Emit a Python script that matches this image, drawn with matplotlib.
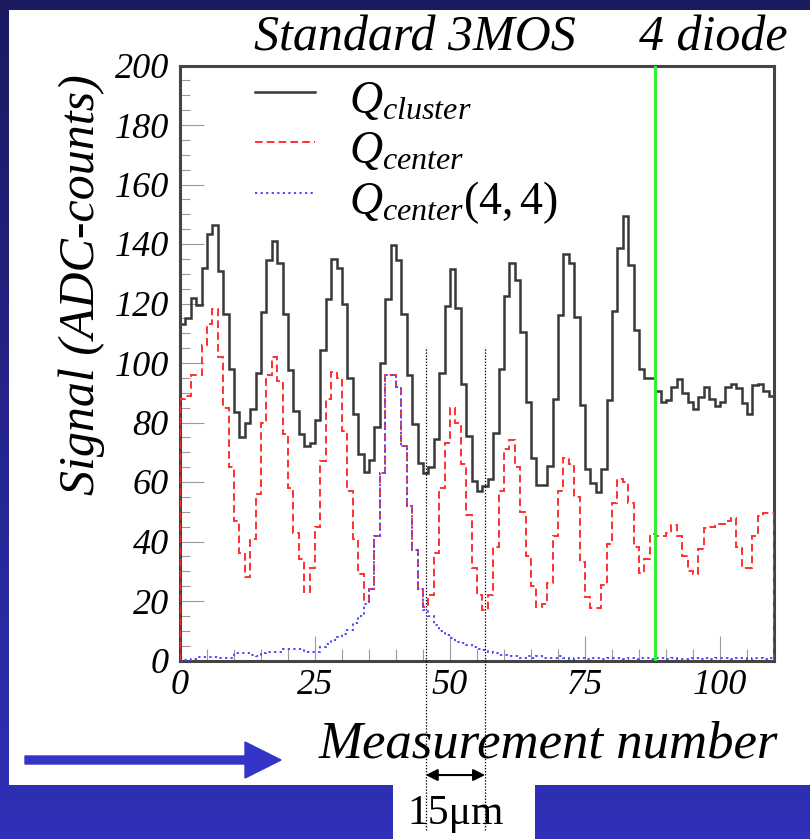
import numpy as np
import matplotlib
matplotlib.use('Agg')
import matplotlib.pyplot as plt
from matplotlib.patches import Rectangle, FancyArrow
from matplotlib.colors import LinearSegmentedColormap

# ---------------- data ----------------
bin_edges = np.arange(0, 111, 1)          # measurement-number bins (110 bins)

q_cluster = [113, 115, 122, 119.5, 132, 143.5, 146.5, 131, 116.5, 98,
             83.5, 75, 80, 84.5, 96.5, 117, 134.5, 141, 133.5, 116.5,
             97.5, 84, 76, 72, 73, 81, 104.5, 121.5, 135, 132,
             120, 95, 83, 69.5, 63.5, 67.5, 78.5, 100, 121.5, 139.5,
             134.5, 116.5, 96, 79.5, 66.5, 63, 65, 74.5, 96.5, 119,
             131.5, 118.5, 93, 75.5, 60.5, 57, 58.5, 61, 76.5, 98,
             122.5, 133.5, 128, 110.5, 87, 68, 59, 59, 65.5, 88,
             116, 136.5, 133.5, 115.5, 86, 64.5, 59.5, 56.5, 64.5, 87.5,
             117.5, 138.5, 149.5, 133, 111, 98, 95, 95, 90.5, 87,
             87.5, 92, 94.5, 90, 87, 84.5, 88.5, 92, 88, 85.5,
             87, 92, 93, 91.5, 86.5, 83, 92.5, 93, 90.5, 89]

q_center = [88, 89, 96, 96, 106, 113, 118, 102, 85, 65,
            47, 36, 28, 41, 56, 80, 96, 102, 94, 76,
            58, 43, 34, 23, 31, 45, 67, 88, 97, 95,
            77, 57, 41, 29, 20, 24, 42, 63, 96, 96,
            92, 72, 52, 37, 24, 18, 22, 36, 58, 73,
            85, 80, 66, 49, 31, 22, 17, 22, 38, 57,
            71, 74, 65, 50, 35, 25, 18, 19, 26, 42,
            57, 68, 66, 55, 33, 21.5, 17.5, 17.5, 25.5, 39,
            53, 61, 60, 53, 38, 29.5, 34, 42.5, 42, 42,
            43, 45.5, 42, 35, 30, 29, 37.5, 44.5, 45, 46,
            46, 47, 48, 38, 31, 31, 42, 48.5, 49.5, 49.5]

q_center44 = [0.3, 0.3, 0.5, 1.2, 1.3, 1.3, 1.3, 0.8, 0.7, 0.8,
              2.4, 2.4, 2.4, 2.0, 1.5, 2.4, 3.0, 3.0, 3.0, 4.0,
              4.0, 4.0, 4.0, 3.0, 3.0, 3.0, 4.5, 5.5, 7.0, 8.0,
              9.0, 10.3, 12.5, 15, 19, 24, 42, 63, 96, 96,
              92, 72, 52, 37, 24, 17, 15, 12, 10, 8.6,
              7.5, 6.3, 5.8, 5.2, 4.5, 4.0, 3.5, 3.0, 2.5, 2.0,
              2.0, 1.5, 1.5, 1.0, 1.5, 1.0, 1.5, 1.0, 1.0, 1.0,
              1.5, 1.0, 0.5, 1.0, 1.0, 0.5, 1.0, 1.0, 0.5, 1.0,
              1.0, 1.0, 0.5, 1.0, 0.5, 1.0, 1.0, 0.5, 1.0, 1.0,
              0.5, 1.0, 0.5, 0.5, 1.0, 1.0, 0.5, 1.0, 0.5, 1.0,
              1.0, 1.0, 0.5, 1.0, 1.0, 0.5, 1.0, 1.0, 0.5, 1.0]

x_ticks = [0, 25, 50, 75, 100]
y_ticks = [0, 20, 40, 60, 80, 100, 120, 140, 160, 180, 200]
labels = [r'$Q_{cluster}$', r'$Q_{center}$', r'$Q_{center}\mathit{(4,4)}$']
diode_edge = 88
pitch_marks = [45.5, 56.5]
pitch_label = '15\u03bcm'
title_left = 'Standard 3MOS'
title_right = '4 diode'
x_title = 'Measurement number'
y_title = 'Signal (ADC-counts)'

# ---------------- style ----------------
plt.rcParams['font.family'] = ['Liberation Serif', 'DejaVu Serif']
plt.rcParams['mathtext.fontset'] = 'custom'
plt.rcParams['mathtext.it'] = 'Liberation Serif:italic'
plt.rcParams['mathtext.rm'] = 'Liberation Serif'
plt.rcParams['lines.scale_dashes'] = False

W, H, DPI = 810, 839, 100
fig = plt.figure(figsize=(W / DPI, H / DPI), dpi=DPI)

# background (pixel coordinates)
bg = fig.add_axes([0, 0, 1, 1], zorder=-10)
bg.set_xlim(0, W)
bg.set_ylim(H, 0)
bg.axis('off')
cmap = LinearSegmentedColormap.from_list('bg', ['#1a1a60', '#3030b8'])
bg.imshow(np.linspace(0, 1, 256).reshape(-1, 1), aspect='auto', cmap=cmap,
          extent=[0, W, H, 0], zorder=0)
bg.add_patch(Rectangle((9, 10), W - 9, 775, facecolor='white', edgecolor='none', zorder=1))
bg.add_patch(Rectangle((393, 784), 142, H - 784, facecolor='white', edgecolor='none', zorder=1))
bg.add_patch(FancyArrow(25, 760, 256, 0, width=8, head_width=36, head_length=36,
                        length_includes_head=True, color='#3434c8', zorder=2))

# main axes
ax = fig.add_axes([180 / W, 1 - 660.5 / H, (774 - 180) / W, (660.5 - 65.5) / H])
ax.set_xlim(0, 110)
ax.set_ylim(0, 200)

ax.stairs(q_cluster, bin_edges, color='#383838', lw=1.8, zorder=2, label=labels[0])
ax.stairs(q_center, bin_edges, color='#ff3030', lw=1.4, linestyle=(0, (5.5, 3.0)),
          zorder=3, label=labels[1])
ax.stairs(q_center44, bin_edges, color='#4a4aff', lw=1.4, linestyle=(0, (1.6, 2.4)),
          zorder=4, label=labels[2])
ax.axvline(diode_edge, color='#33ee33', lw=2.2, zorder=5)

# pitch markers below/through the axes
ax.vlines(pitch_marks, -57, 105.5, colors='black', linestyles=(0, (1.0, 1.2)),
          lw=0.9, clip_on=False, zorder=6)
ax.annotate('', xy=(pitch_marks[1], -38.5), xytext=(pitch_marks[0], -38.5),
            arrowprops=dict(arrowstyle='<|-|>,head_length=0.7,head_width=0.35',
                            color='black', lw=1.5, shrinkA=0, shrinkB=0),
            annotation_clip=False)
ax.text(np.mean(pitch_marks), -51.5, pitch_label, ha='center', va='center',
        fontsize=30, fontstyle='normal', clip_on=False)

# ticks
ax.set_xticks(x_ticks)
ax.set_xticks(np.arange(0, 111, 5), minor=True)
ax.set_yticks(y_ticks)
ax.set_yticks(np.arange(0, 201, 5), minor=True)
ax.tick_params(axis='both', which='both', direction='in', colors='#9a9a9a', width=0.8,
               top=False, right=False, labelcolor='black', labelsize=26)
ax.tick_params(axis='y', which='major', length=17, pad=8)
ax.tick_params(axis='y', which='minor', length=7)
ax.tick_params(axis='x', which='major', length=18, pad=6)
ax.tick_params(axis='x', which='minor', length=8.5)
for lab in ax.get_xticklabels() + ax.get_yticklabels():
    lab.set_fontstyle('italic')
for s in ax.spines.values():
    s.set_color('#444444')
    s.set_linewidth(2.2)

leg = ax.legend(loc='upper left', bbox_to_anchor=((255 - 180) / 594, 1 - (76 - 65.5) / 595),
                frameon=False, fontsize=33, handlelength=1.3, handletextpad=0.75,
                labelspacing=0.08, borderpad=0, borderaxespad=0, handleheight=1.05)

# titles
fig.text(415 / W, 1 - 38 / H, title_left, ha='center', va='center', fontsize=36,
         fontstyle='italic')
fig.text(713 / W, 1 - 38 / H, title_right, ha='center', va='center', fontsize=36,
         fontstyle='italic')
fig.text(548 / W, 1 - 745 / H, x_title, ha='center', va='center', fontsize=38,
         fontstyle='italic')
fig.text(82 / W, 1 - 285 / H, y_title, ha='center', va='center', rotation=90,
         fontsize=36, fontstyle='italic')

fig.savefig('out.png', dpi=DPI)
